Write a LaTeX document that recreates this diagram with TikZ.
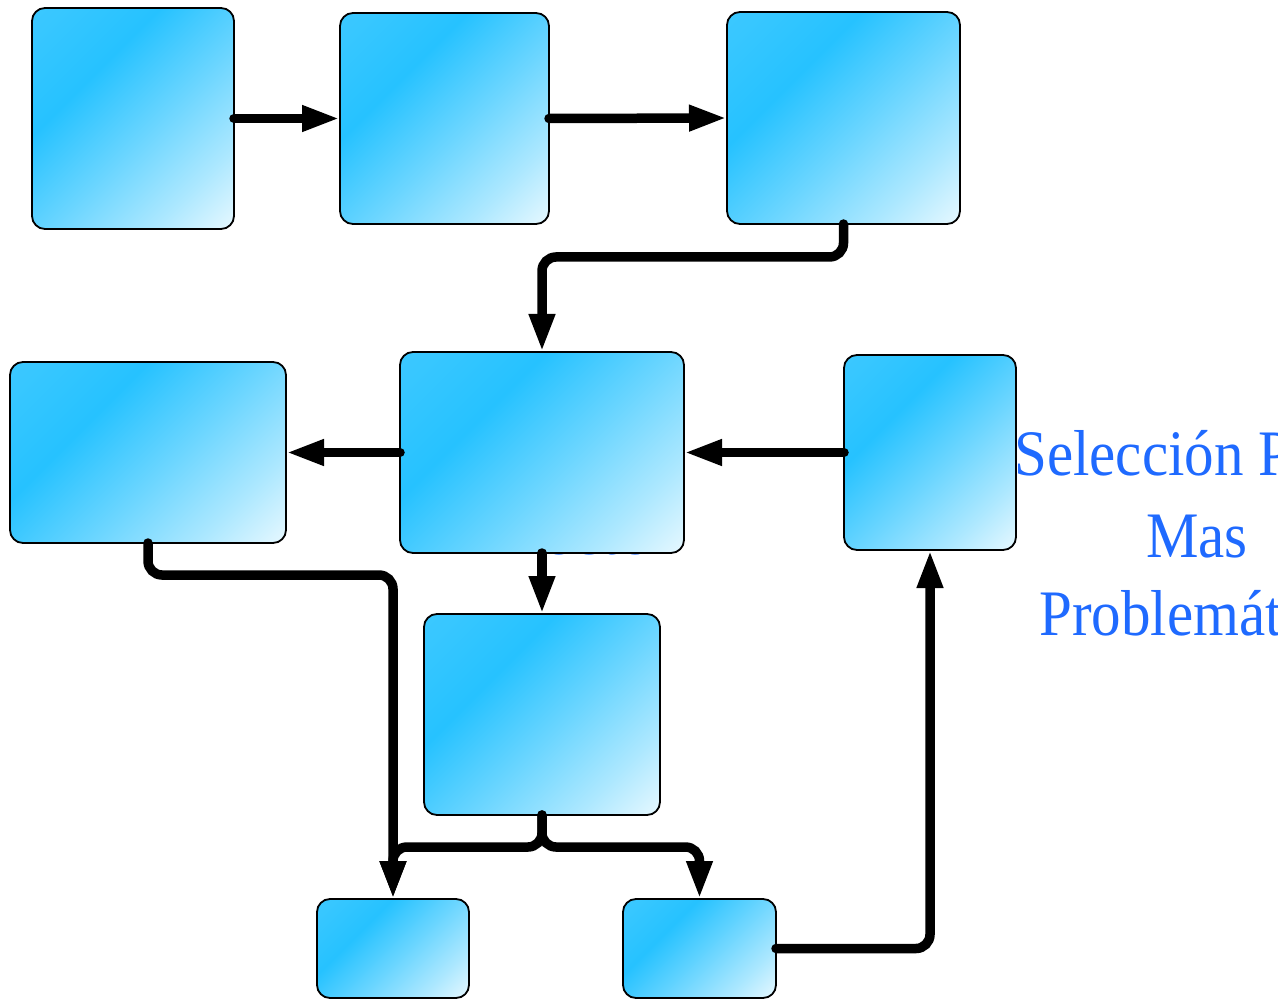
\documentclass[tikz,border=0pt]{standalone}
\usepackage{fontspec}
\setmainfont{Liberation Serif}
\usetikzlibrary{arrows.meta}
\definecolor{cyanA}{RGB}{38,194,255}
\definecolor{txtblue}{RGB}{31,106,255}
\pgfdeclarehorizontalshading{boxshade}{100bp}{color(0bp)=(cyanA!85!white); color(20bp)=(cyanA!92!white); color(36bp)=(cyanA); color(55bp)=(cyanA!68!white); color(72bp)=(cyanA!38!white); color(87bp)=(cyanA!8!white); color(100bp)=(white)}
\tikzset{
  box/.style={draw=black, line width=1.8pt, rounded corners=13pt, anchor=north west,
    shading=boxshade, shading angle=-45,
    inner sep=0pt, outer sep=0pt},
  conn/.style={draw=black, line width=9.5pt, line cap=round, rounded corners=14pt,
    -{Triangle[width=24pt,length=38pt]}},
  bluetxt/.style={text=txtblue, font=\fontsize{59}{72}\selectfont, anchor=base, inner sep=0pt,
    yscale=1.1, transform shape}
}
\begin{document}
\begin{tikzpicture}[x=1pt,y=-1pt]
\useasboundingbox (0,0) rectangle (1278,1000);
% text partly hidden behind the middle box
\node[bluetxt, xscale=1.1] (th) at (567,554.5) {Efecto};
% boxes
\node[box, minimum width=202pt, minimum height=221pt] (A) at (32,8) {};
\node[box, minimum width=209pt, minimum height=211pt] (B) at (340,13) {};
\node[box, minimum width=233pt, minimum height=212pt] (C) at (727,12) {};
\node[box, minimum width=276pt, minimum height=181pt] (D) at (10,362) {};
\node[box, minimum width=284pt, minimum height=201pt] (E) at (400,352) {};
\node[box, minimum width=172pt, minimum height=195pt] (F) at (844,355) {};
\node[box, minimum width=236pt, minimum height=201pt] (G) at (424,614) {};
\node[box, minimum width=152pt, minimum height=99pt] (H) at (317,899) {};
\node[box, minimum width=153pt, minimum height=99pt] (I) at (623,899) {};
% text on the right
\node[bluetxt] (t1) at (1197,475) {Selección Parte};
\node[bluetxt] (t2) at (1197,557) {Mas};
\node[bluetxt] (t3) at (1195,635) {Problemática};
% connectors
\draw[conn] (A.east) -- (B.west);
\draw[conn] (B.east) -- (C.west);
\draw[conn] (C.south) -- ++(0,33) -| (E.north);
\draw[conn] (E.west) -- (D.east);
\draw[conn] (F.west) -- (E.east);
\draw[conn] (E.south) -- (G.north);
\draw[conn] (D.south) -- ++(0,32) -| (H.north);
\draw[conn] (G.south) -- ++(0,32) -| (H.north);
\draw[conn] (G.south) -- ++(0,32) -| (I.north);
\draw[conn] (I.east) -| (F.south);
\end{tikzpicture}
\end{document}
